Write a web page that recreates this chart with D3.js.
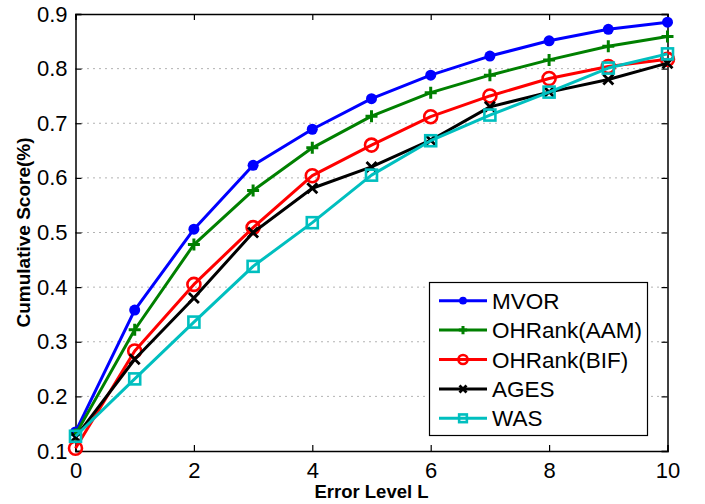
<!DOCTYPE html>
<html><head><meta charset="utf-8">
<script src="https://cdn.jsdelivr.net/npm/d3@7"></script>
<style>body{margin:0;background:#fff}svg{display:block}text{font-family:"Liberation Sans",Arial,sans-serif}</style>
</head><body><svg id="c" width="705" height="504"></svg>
<script>
const errorLevels = [0,1,2,3,4,5,6,7,8,9,10];
const mvor      = [0.135,0.358,0.506,0.623,0.689,0.745,0.788,0.823,0.851,0.872,0.885];
const ohrankAAM = [0.130,0.322,0.478,0.577,0.655,0.713,0.756,0.788,0.816,0.841,0.859];
const ohrankBIF = [0.105,0.283,0.405,0.509,0.604,0.660,0.712,0.750,0.782,0.804,0.817];
const ages      = [0.125,0.268,0.380,0.500,0.581,0.620,0.669,0.730,0.757,0.780,0.810];
const was       = [0.127,0.232,0.336,0.438,0.518,0.605,0.668,0.715,0.757,0.801,0.827];
const seriesNames = ["MVOR","OHRank(AAM)","OHRank(BIF)","AGES","WAS"];
const xTicks = [0,2,4,6,8,10];
const yTicks = [0.1,0.2,0.3,0.4,0.5,0.6,0.7,0.8,0.9];

const seriesVals = [mvor, ohrankAAM, ohrankBIF, ages, was];
const colors = ["#0000ff","#008000","#ff0000","#000000","#00bfbf"];
const markers = ["dot","plus","circle","x","square"];

const svg = d3.select("#c");
const L=75.5, R=667.5, T=14, B=451;
const x = d3.scaleLinear().domain([0,10]).range([L,R]);
const y = d3.scaleLinear().domain([0.1,0.9]).range([B,T]);

// grid
svg.append("g").selectAll("line").data(yTicks.filter(v=>v>0.15&&v<0.85)).join("line")
  .attr("x1",L).attr("x2",R).attr("y1",d=>y(d)).attr("y2",d=>y(d))
  .attr("stroke","#666").attr("stroke-width",1).attr("stroke-dasharray","1,5");

// axes
const fs = 22;
const gx = svg.append("g").attr("transform",`translate(0,${B})`)
  .call(d3.axisBottom(x).tickValues(xTicks).tickSize(-6).tickPadding(12).tickFormat(d3.format("d")));
const gxt = svg.append("g").attr("transform",`translate(0,${T})`)
  .call(d3.axisTop(x).tickValues(xTicks).tickSize(-6).tickFormat(""));
const gy = svg.append("g").attr("transform",`translate(${L},0)`)
  .call(d3.axisLeft(y).tickValues(yTicks).tickSize(-6).tickPadding(8).tickFormat(d3.format(".1f")));
const gyr = svg.append("g").attr("transform",`translate(${R},0)`)
  .call(d3.axisRight(y).tickValues(yTicks).tickSize(-6).tickFormat(""));
[gx,gxt,gy,gyr].forEach(g=>{
  g.select(".domain").attr("stroke","#000").attr("stroke-width",1.5);
  g.selectAll(".tick line").attr("stroke","#000").attr("stroke-width",1.2);
  g.selectAll("text").attr("font-size",fs).attr("fill","#000").attr("font-family","'Liberation Sans',Arial,sans-serif");
});
gx.selectAll("text").attr("dy","0.68em");

// axis labels
svg.append("text").attr("x",(L+R)/2).attr("y",498).attr("text-anchor","middle")
  .attr("font-size",18.5).attr("font-weight","bold").text("Error Level L");
svg.append("text").attr("transform",`translate(30,${(T+B)/2}) rotate(-90)`).attr("text-anchor","middle")
  .attr("font-size",19).attr("font-weight","bold").text("Cumulative Score(%)");

function drawMarker(g, type, color, cx, cy, s){
  if(type==="dot") g.append("circle").attr("cx",cx).attr("cy",cy).attr("r",5.5*s).attr("fill",color);
  else if(type==="circle") g.append("circle").attr("cx",cx).attr("cy",cy).attr("r",6.5*s).attr("fill","none").attr("stroke",color).attr("stroke-width",2.6);
  else if(type==="plus") g.append("path").attr("d",`M${cx-6*s},${cy}H${cx+6*s}M${cx},${cy-6*s}V${cy+6*s}`).attr("stroke",color).attr("stroke-width",3);
  else if(type==="x") g.append("path").attr("d",`M${cx-5*s},${cy-5*s}L${cx+5*s},${cy+5*s}M${cx-5*s},${cy+5*s}L${cx+5*s},${cy-5*s}`).attr("stroke",color).attr("stroke-width",2.8);
  else if(type==="square") g.append("rect").attr("x",cx-5.5*s).attr("y",cy-5.5*s).attr("width",11*s).attr("height",11*s).attr("fill","none").attr("stroke",color).attr("stroke-width",2.6);
}

const line = d3.line().x((d,i)=>x(errorLevels[i])).y(d=>y(d));
seriesVals.forEach((vals,k)=>{
  const g = svg.append("g");
  g.append("path").datum(vals).attr("d",line).attr("fill","none").attr("stroke",colors[k]).attr("stroke-width",3).attr("stroke-linejoin","round");
  vals.forEach((v,i)=>drawMarker(g, markers[k], colors[k], x(errorLevels[i]), y(v), 1));
});

// legend
const lg = svg.append("g");
lg.append("rect").attr("x",429.5).attr("y",282.5).attr("width",218).attr("height",153).attr("fill","#fff").attr("stroke","#000").attr("stroke-width",1.2);
seriesNames.forEach((n,k)=>{
  const cy = 300.7 + k*29.4;
  lg.append("line").attr("x1",439).attr("x2",487).attr("y1",cy).attr("y2",cy).attr("stroke",colors[k]).attr("stroke-width",3);
  drawMarker(lg, markers[k], colors[k], 463, cy, 0.7);
  lg.append("text").attr("x",492).attr("y",cy).attr("dy","0.36em").attr("font-size",22.5).text(n);
});
</script></body></html>
